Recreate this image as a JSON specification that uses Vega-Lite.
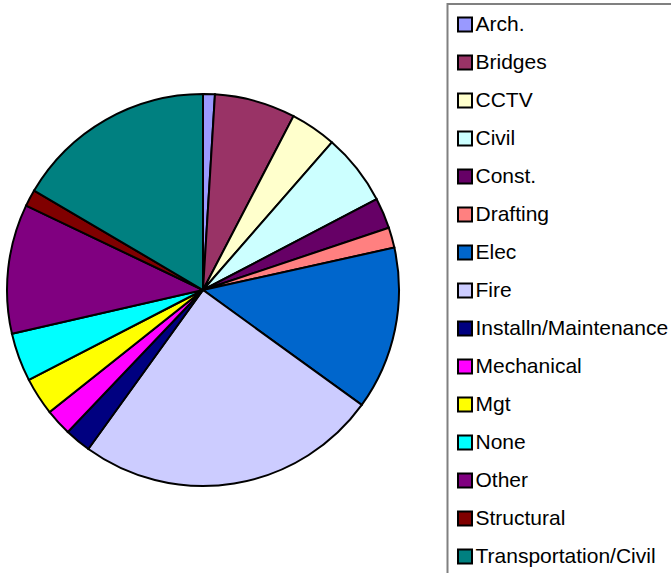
{
  "$schema": "https://vega.github.io/schema/vega-lite/v6.json",
  "autosize": "none",
  "width": 406,
  "height": 566,
  "padding": {"top": 7, "left": 0, "right": 265, "bottom": 0},
  "background": "white",
  "config": {
    "view": {"stroke": null},
    "legend": {"strokeColor": "#808080", "strokeWidth": 2, "fillColor": "white"}
  },
  "data": {"values": [
    {"idx": 1, "cat": "Arch.", "value": 3.5},
    {"idx": 2, "cat": "Bridges", "value": 24},
    {"idx": 3, "cat": "CCTV", "value": 13.6},
    {"idx": 4, "cat": "Civil", "value": 21.3},
    {"idx": 5, "cat": "Const.", "value": 9.1},
    {"idx": 6, "cat": "Drafting", "value": 6},
    {"idx": 7, "cat": "Elec", "value": 48.4},
    {"idx": 8, "cat": "Fire", "value": 89.9},
    {"idx": 9, "cat": "Installn/Maintenance", "value": 7.8},
    {"idx": 10, "cat": "Mechanical", "value": 7.9},
    {"idx": 11, "cat": "Mgt", "value": 11.2},
    {"idx": 12, "cat": "None", "value": 14.4},
    {"idx": 13, "cat": "Other", "value": 38.4},
    {"idx": 14, "cat": "Structural", "value": 5},
    {"idx": 15, "cat": "Transportation/Civil", "value": 59.5}
  ]},
  "mark": {"type": "arc", "outerRadius": 196, "stroke": "black", "strokeWidth": 2},
  "encoding": {
    "theta": {"field": "value", "type": "quantitative", "stack": true},
    "order": {"field": "idx", "type": "quantitative"},
    "color": {
      "field": "cat",
      "type": "nominal",
      "scale": {
        "domain": ["Arch.", "Bridges", "CCTV", "Civil", "Const.", "Drafting", "Elec", "Fire", "Installn/Maintenance", "Mechanical", "Mgt", "None", "Other", "Structural", "Transportation/Civil"],
        "range": ["#9999FF", "#993366", "#FFFFCC", "#CCFFFF", "#660066", "#FF8080", "#0066CC", "#CCCCFF", "#000080", "#FF00FF", "#FFFF00", "#00FFFF", "#800080", "#800000", "#008080"]
      },
      "legend": {
        "title": " ",
        "titleFontSize": 3,
        "titlePadding": 0,
        "orient": "none",
        "legendX": 447.5,
        "legendY": -3,
        "padding": 7,
        "symbolType": "square",
        "symbolSize": 196,
        "symbolStrokeColor": "black",
        "symbolStrokeWidth": 2,
        "labelFont": "Liberation Sans",
        "labelFontSize": 21,
        "labelColor": "black",
        "labelOffset": 0,
        "labelLimit": 300,
        "rowPadding": 15
      }
    }
  }
}
